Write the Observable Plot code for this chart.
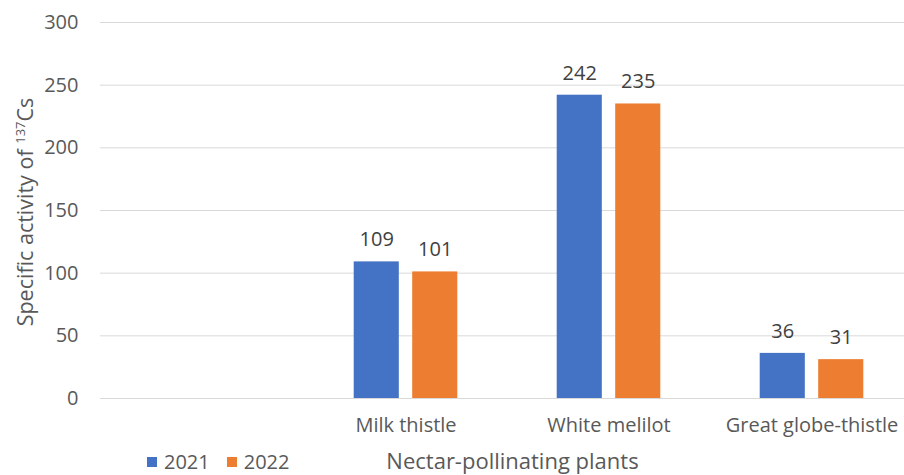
<!DOCTYPE html>
<html>
<head>
<meta charset="utf-8">
<script src="https://cdn.jsdelivr.net/npm/d3@7"></script>
<script src="https://cdn.jsdelivr.net/npm/@observablehq/plot@0.6"></script>
<style>
  html, body { margin: 0; padding: 0; background: #fff; }
  #wrap { position: relative; width: 904px; height: 475px; overflow: hidden; font-family: "Open Sans", sans-serif; }
  #ylabel { position: absolute; left: 24px; top: 212px; transform: translate(-50%, -50%) rotate(-90deg); white-space: nowrap; font-size: 21.5px; color: #595959; }
  #ylabel sup { font-size: 13px; vertical-align: 0.6em; line-height: 0; }
  #legend { position: absolute; left: 147px; top: 450px; display: flex; align-items: center; font-size: 20px; color: #595959; line-height: 24px; }
  #legend .sw { width: 10px; height: 10px; display: inline-block; margin-right: 7px; }
  #legend .it { display: flex; align-items: center; margin-right: 17px; }
</style>
</head>
<body>
<div id="wrap">
  <div id="chart"></div>
  <div id="ylabel">Specific activity of <sup>137</sup>Cs</div>
  <div id="legend"></div>
</div>
<script>
const categories = ["", "Milk thistle", "White melilot", "Great globe-thistle"];
const plants = ["Milk thistle", "White melilot", "Great globe-thistle"];
const years = ["2021", "2022"];
const values2021 = [109, 242, 36];
const values2022 = [101, 235, 31];
const yTicks = [0, 50, 100, 150, 200, 250, 300];
const colors = ["#4472C4", "#ED7D31"];

const d21 = plants.map((p, i) => ({plant: p, value: values2021[i]}));
const d22 = plants.map((p, i) => ({plant: p, value: values2022[i]}));

const textColor = "#595959";
const fs = 20;

const chart = Plot.plot({
  width: 904,
  height: 475,
  marginTop: 22,
  marginBottom: 77,
  marginLeft: 100,
  marginRight: -20,
  style: {fontFamily: "'Open Sans', sans-serif", color: textColor, background: "#fff", overflow: "hidden"},
  x: {domain: categories, range: [100, 913.5], padding: 0},
  y: {domain: [0, 300]},
  marks: [
    Plot.ruleY(yTicks, {stroke: "#d9d9d9", strokeWidth: 1}),
    Plot.barY(d21, {x: "plant", y: "value", fill: colors[0], insetLeft: 49.7, insetRight: 108.2}),
    Plot.barY(d22, {x: "plant", y: "value", fill: colors[1], insetLeft: 108.2, insetRight: 49.7}),
    Plot.text(d21, {x: "plant", y: "value", text: d => String(d.value), dx: -29.25, dy: -22, fontSize: fs, fill: "#404040"}),
    Plot.text(d22, {x: "plant", y: "value", text: d => String(d.value), dx: 29.25, dy: -22, fontSize: fs, fill: "#404040"}),
    Plot.axisY(yTicks, {tickSize: 0, tickPadding: 22, fontSize: fs, label: null, fill: textColor}),
    Plot.axisX({tickSize: 0, tickPadding: 19, fontSize: fs, fill: textColor, label: "Nectar-pollinating plants", labelAnchor: "center", labelOffset: 70})
  ]
});
chart.querySelectorAll("text").forEach(t => {
  if (t.textContent === "Nectar-pollinating plants") t.setAttribute("font-size", "22");
});
document.getElementById("chart").appendChild(chart);

const leg = document.getElementById("legend");
years.forEach((y, i) => {
  const it = document.createElement("span");
  it.className = "it";
  const sw = document.createElement("span");
  sw.className = "sw";
  sw.style.background = colors[i];
  it.appendChild(sw);
  it.appendChild(document.createTextNode(y));
  leg.appendChild(it);
});
</script>
</body>
</html>
